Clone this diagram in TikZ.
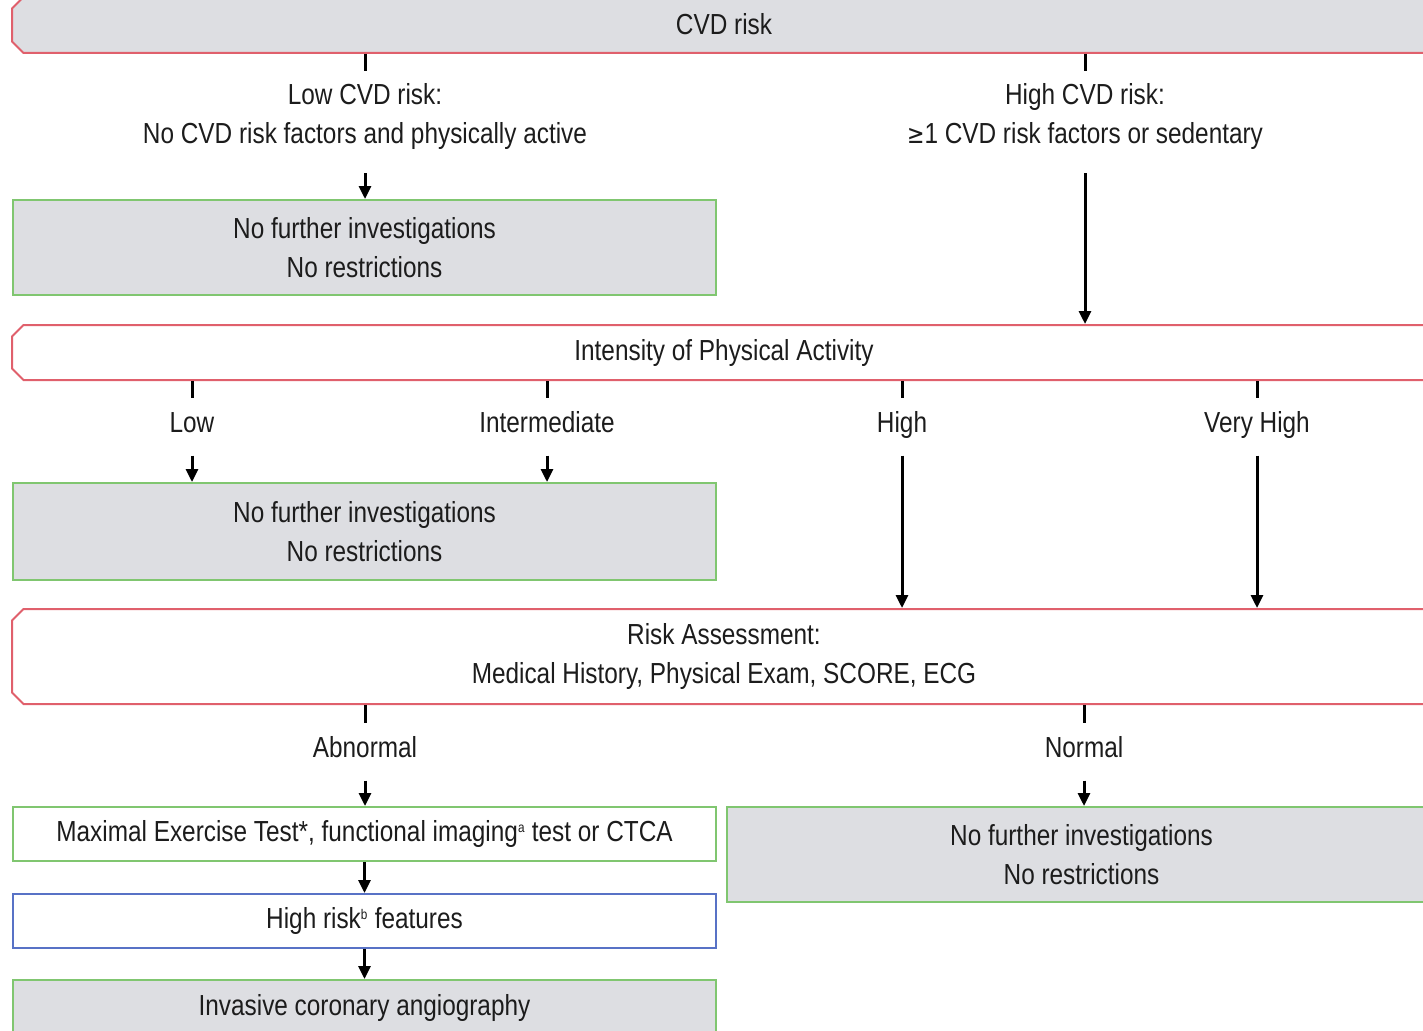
\documentclass[tikz,border=0pt]{standalone}
\usepackage{fontspec}
\setmainfont{Liberation Sans}[FakeStretch=0.84]
\usetikzlibrary{shapes.misc,arrows.meta,calc}

\definecolor{boxgray}{RGB}{221,222,226}
\definecolor{boxred}{RGB}{224,96,108}
\definecolor{boxgreen}{RGB}{128,198,112}
\definecolor{boxblue}{RGB}{88,114,198}
\definecolor{txtgray}{RGB}{28,28,28}

\newcommand{\supnote}[1]{\textsuperscript{\fontsize{14}{14}\selectfont #1}}

\begin{document}
\begin{tikzpicture}[x=1pt, y=-1pt,
    font=\fontsize{29}{39}\selectfont, text=txtgray,
    redbox/.style={chamfered rectangle, chamfered rectangle corners={north west,south west},
        chamfered rectangle xsep=8pt, draw=boxred, line width=2pt,
        minimum width=1424pt, align=center, inner sep=0pt},
    greenbox/.style={rectangle, draw=boxgreen, line width=2pt,
        minimum width=703pt, align=center, inner sep=0pt},
    lbl/.style={align=center, inner xsep=0pt, inner ysep=13pt},
    slbl/.style={lbl, text height=21pt, text depth=0pt},
    line/.style={line width=3pt},
    arr/.style={line width=3pt, -{Triangle[length=13pt,width=12pt]}, shorten <=10pt}]

    \path[use as bounding box, clip] (0,0) rectangle (1423,1030);

    % CVD risk
    \node[redbox, fill=boxgray, minimum height=56pt, text depth=3pt] (cvd) at (724,25) {CVD risk};
    \node[lbl] (lowcvd) at (365,117) {Low CVD risk:\\No CVD risk factors and physically active};
    \node[lbl] (highcvd) at (1085,117) {High CVD risk:\\{\fontspec{DejaVu Sans}[FakeStretch=0.8]\fontsize{26}{39}\selectfont ≥}1 CVD risk factors or sedentary};
    \node[greenbox, fill=boxgray, minimum height=95pt] (nofurther1) at (364.5,247.5) {No further investigations\\No restrictions};

    \draw[line] (cvd.south -| lowcvd) -- (lowcvd.north);
    \draw[line] (cvd.south -| highcvd) -- (highcvd.north);
    \draw[arr] (lowcvd.south) -- (nofurther1.north -| lowcvd);

    % Intensity
    \node[redbox, fill=white, minimum height=55pt] (intensity) at (724,352.5) {Intensity of Physical Activity};
    \draw[arr] (highcvd.south) -- (intensity.north -| highcvd);

    \node[slbl] (low) at (192,422) {Low};
    \node[slbl] (inter) at (547,422) {Intermediate};
    \node[slbl] (high) at (902,422) {High};
    \node[slbl] (vhigh) at (1257,422) {Very High};
    \node[greenbox, fill=boxgray, minimum height=97pt] (nofurther2) at (364.5,531.5) {No further investigations\\No restrictions};

    \foreach \lab in {low,inter,high,vhigh}
        \draw[line] (intensity.south -| \lab) -- (\lab.north);
    \draw[arr] (low.south) -- (nofurther2.north -| low);
    \draw[arr] (inter.south) -- (nofurther2.north -| inter);

    % Risk assessment
    \node[redbox, fill=white, minimum height=95pt] (riskass) at (724,656.5) {Risk Assessment:\\Medical History, Physical Exam, SCORE, ECG};
    \draw[arr] (high.south) -- (riskass.north -| high);
    \draw[arr] (vhigh.south) -- (riskass.north -| vhigh);

    \node[slbl] (abnormal) at (365,747) {Abnormal};
    \node[slbl] (normal) at (1084,747) {Normal};
    \draw[line] (riskass.south -| abnormal) -- (abnormal.north);
    \draw[line] (riskass.south -| normal) -- (normal.north);

    % Abnormal branch
    \node[greenbox, fill=white, minimum height=54pt] (maxex) at (364.5,834) {Maximal Exercise Test*, functional imaging\supnote{a} test or CTCA};
    \node[greenbox, draw=boxblue, fill=white, minimum height=54pt] (highrisk) at (364.5,921) {High risk\supnote{b} features};
    \node[greenbox, fill=boxgray, minimum height=55pt] (ica) at (364.5,1007.5) {Invasive coronary angiography};

    \draw[arr] (abnormal.south) -- (maxex.north -| abnormal);
    \draw[arr, shorten <=0pt] (maxex) -- (highrisk);
    \draw[arr, shorten <=0pt] (highrisk) -- (ica);

    % Normal branch
    \node[greenbox, fill=boxgray, minimum width=709pt, minimum height=95pt] (nofurther3) at (1081.5,854.5) {No further investigations\\No restrictions};
    \draw[arr] (normal.south) -- (nofurther3.north -| normal);
\end{tikzpicture}
\end{document}
